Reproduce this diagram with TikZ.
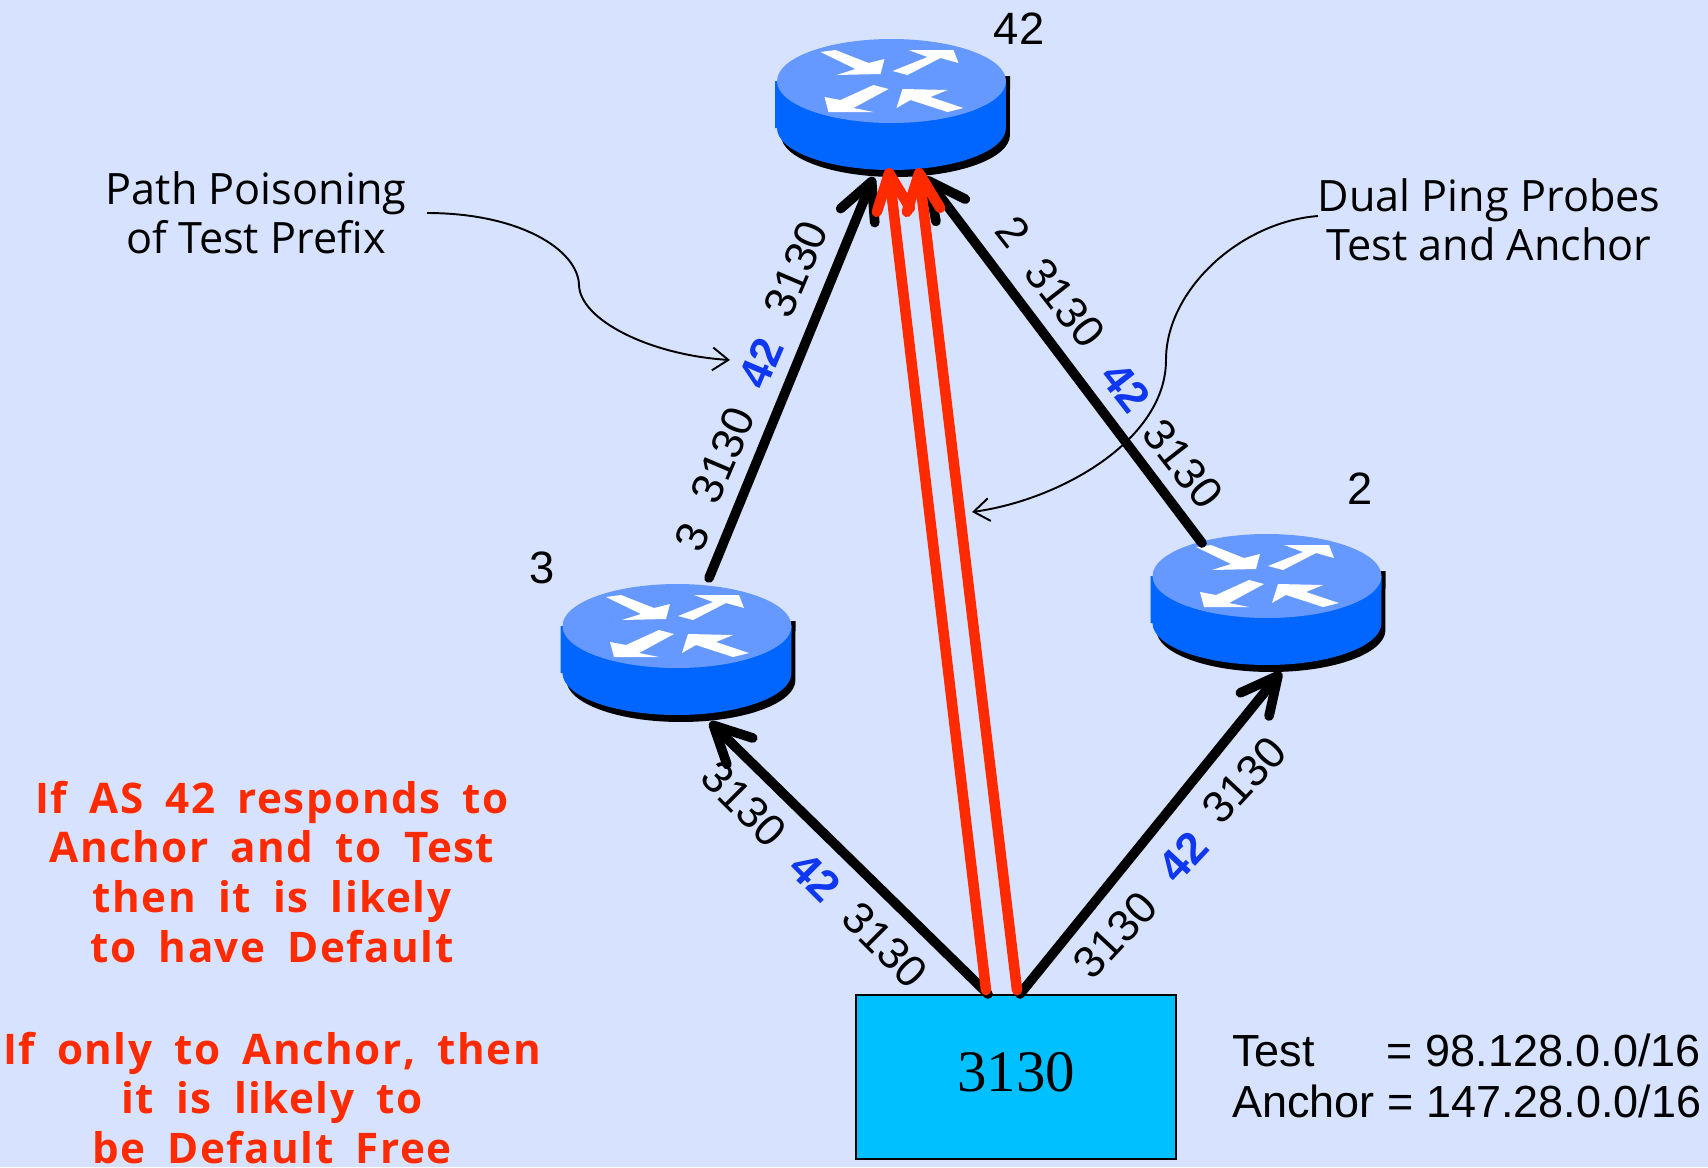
\documentclass[tikz,border=0pt]{standalone}
\usepackage{fontspec}
\setmainfont{Liberation Sans}
\newfontfamily\handfont{Open Sans}
\newfontfamily\verdictfont[LetterSpace=3.5, WordSpace=1.8]{Open Sans}
\newfontfamily\boxfont{Liberation Serif}
\usetikzlibrary{shapes.geometric, calc, arrows.meta}
\definecolor{pagebg}{HTML}{D7E3FE}
\definecolor{routertop}{HTML}{6699FF}
\definecolor{routerbody}{HTML}{0066FF}
\definecolor{asbox}{HTML}{00C0FF}
\definecolor{probered}{HTML}{FF2A00}
\definecolor{poisonblue}{HTML}{0F37F0}
\tikzset{
  routernode/.style={ellipse, minimum width=4.6cm, minimum height=2.88cm, inner sep=0pt, outer sep=0pt},
  whitearrow/.style={fill=white, draw=none},
  aspath/.style={font=\fontsize{25.3}{29}\selectfont, inner sep=0pt},
  poisoned/.style={font=\fontsize{25.3}{29}\selectfont\bfseries, text=poisonblue, inner sep=0pt},
  asname/.style={font=\fontsize{25.8}{29}\selectfont, inner sep=0pt},
  link/.style={line width=5.5pt, line cap=round, -{Straight Barb[round, length=21pt, width=21pt]}},
  probe/.style={line width=6pt, draw=probered, line cap=round, -{Straight Barb[round, length=21pt, width=19pt]}},
  note/.style={font=\handfont\fontsize{24.6}{28}\selectfont, align=center, inner sep=0pt},
  verdict/.style={font=\verdictfont\fontsize{24}{28.4}\selectfont\bfseries, text=probered, align=center, inner sep=0pt},
  callout/.style={line width=1.1pt, -{Straight Barb[length=9pt, width=13pt]}}
}
\newcommand{\router}[3]{%
  \begin{scope}[shift={(#2,#3)}]
    \path[fill=black] (-110.5,-5) -- (-110.5,54) arc[start angle=180, end angle=360, x radius=2.29cm, y radius=0.84cm] -- (118.5,-5) -- cycle;
    \path[fill=routerbody] (-116.5,0) -- (-116.5,47) -- (-114.5,47) arc[start angle=180, end angle=360, x radius=2.29cm, y radius=0.84cm] -- (114.5,0) -- cycle;
    \path[fill=routertop] (0,0) ellipse[x radius=2.29cm, y radius=0.84cm];
    \fill[whitearrow] (-71,-29) -- (-56,-31) -- (-23,-18) -- (-7,-22) -- (-11,-7) -- (-55,-6) -- (-36,-12) -- cycle;
    \fill[whitearrow] (1,-10) -- (36,-24) -- (17,-31) -- (62,-31) -- (67,-18) -- (49,-23) -- (16,-6) -- cycle;
    \fill[whitearrow] (-3,8) -- (-18,4) -- (-51,19) -- (-67,16) -- (-63,31) -- (-18,31) -- (-38,27) -- cycle;
    \fill[whitearrow] (72,27) -- (39,16) -- (56,9) -- (11,8) -- (5,27) -- (19,19) -- (56,31) -- cycle;
    \node[routernode] (#1) at (0,24) {};
  \end{scope}}

\begin{document}
\begin{tikzpicture}[x=0.02cm, y=-0.02cm]

%% ── Page ───────────────────────────────────────────────
\fill[pagebg] (0,0) rectangle (1708,1167);
\useasboundingbox (0,0) rectangle (1708,1167);

%% ── Routers and the origin box ─────────────────────────
\router{rfortytwo}{891.5}{81}
\router{rthree}{677}{626}
\router{rtwo}{1267}{576}
\node[rectangle, draw=black, line width=1.1pt, fill=asbox, minimum width=6.4cm, minimum height=3.28cm,
  font=\boxfont\fontsize{33.5}{36}\selectfont, inner sep=0pt, text depth=6pt] (origin) at (1016,1077) {3130};

\node[asname] (name42) at (1019,29)  {42};
\node[asname] (name3)  at (542,568)  {3};
\node[asname] (name2)  at (1360,489) {2};

%% ── Black links ────────────────────────────────────────
\draw[link] ($(origin.north)+(-28,0)$) -- ($(rthree.south)+(33,0)$);
\draw[link] ($(origin.north)+(4,0)$)   -- ($(rtwo.south)+(14,0)$);
\draw[link] ($(rthree.north)+(32,0)$)  -- ($(rfortytwo.south)+(-18,0)$);
\draw[link] ($(rtwo.north)+(-65,15)$)  -- ($(rfortytwo.south)+(34,0)$);

%% ── Red probes ─────────────────────────────────────────
\draw[probe] ($(origin.north)+(-30,-4)$) -- ($(rfortytwo.south)+(-3,-9)$);
\draw[probe] ($(origin.north)+(1,-4)$)   -- ($(rfortytwo.south)+(27,-9)$);

%% ── Path labels ────────────────────────────────────────
% 3130 -- 3
\node[aspath, rotate=-45] (pathLa) at (744,804) {3130};
\node[poisoned, rotate=-45] (pathLb) at (815,877) {42};
\node[aspath, rotate=-45] (pathLc) at (885,945) {3130};
% 3130 -- 2
\node[aspath, rotate=47] (pathRa) at (1115,935) {3130};
\node[poisoned, rotate=47] (pathRb) at (1183,857) {42};
\node[aspath, rotate=47] (pathRc) at (1244,780) {3130};
% 3 -- 42
\node[aspath, rotate=67] (pathUa) at (692,537) {3};
\node[aspath, rotate=67] (pathUb) at (723,455) {3130};
\node[poisoned, rotate=67] (pathUc) at (761,363) {42};
\node[aspath, rotate=67] (pathUd) at (796,269) {3130};
% 2 -- 42
\node[aspath, rotate=-52] (pathVa) at (1013,232) {2};
\node[aspath, rotate=-52] (pathVb) at (1065,303) {3130};
\node[poisoned, rotate=-52] (pathVc) at (1126,387) {42};
\node[aspath, rotate=-52] (pathVd) at (1183,464) {3130};

%% ── Notes ──────────────────────────────────────────────
\node[note] (poison) at (256,213) {Path Poisoning\\of Test Prefix};
\node[note] (dual)   at (1489,220) {Dual Ping Probes\\Test and Anchor};
\coordinate (poisontip) at (730,360);
\coordinate (dualtip)   at (972,512);
\draw[callout] (427,213) .. controls (520,213) and (578,250) .. (579,285)
  .. controls (580,320) and (650,355) .. (poisontip);
\draw[callout] (1318,216) .. controls (1240,222) and (1166,290) .. (1166,360)
  .. controls (1166,440) and (1060,500) .. (dualtip);

\node[verdict] (ifboth) at (272,872) {If AS 42 responds to\\Anchor and to Test\\then it is likely\\to have Default};
\node[verdict] (ifanchor) at (272,1098) {If only to Anchor, then\\it is likely to\\be Default Free};

\node[aspath, align=left, anchor=north west, font=\fontsize{25.6}{28.6}\selectfont] (prefixes) at (1232,1034)
  {Test\hspace{41pt}= 98.128.0.0/16\\Anchor = 147.28.0.0/16};

\end{tikzpicture}
\end{document}
